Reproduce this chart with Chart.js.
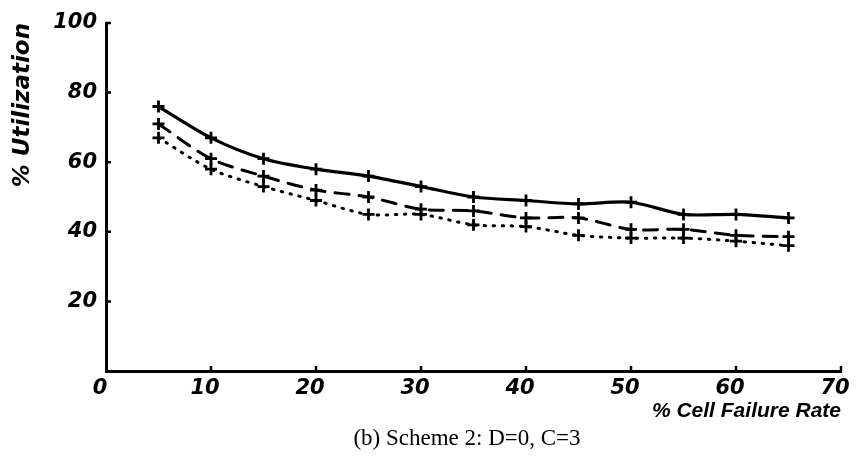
<!DOCTYPE html>
<html>
<head>
<meta charset="utf-8">
<script src="https://cdn.jsdelivr.net/npm/chart.js@4.4.0/dist/chart.umd.min.js"></script>
<style>
    html, body { margin: 0; padding: 0; background: #fff; }
    #wrap { position: relative; width: 867px; height: 465px; }
    #caption {
        position: absolute; left: 0; width: 934px; top: 425px;
        text-align: center; font-family: "Liberation Serif", "DejaVu Serif", serif;
        font-size: 23px; color: #000;
    }
</style>
</head>
<body>
<div id="wrap">
    <canvas id="chart" width="867" height="465"></canvas>
    <div id="caption">(b) Scheme 2: D=0, C=3</div>
</div>
<script>
// failure rate (%) on x, utilization (%) on y
const failureRates = [5, 10, 15, 20, 25, 30, 35, 40, 45, 50, 55, 60, 65];
const solidSeries  = [76, 67, 61, 58, 56, 53, 50, 49, 48, 48.5, 45, 45, 44];
const dashedSeries = [71, 61, 56, 52, 50, 46.5, 46, 44, 44, 40.7, 40.7, 39, 38.6];
const dottedSeries = [67, 58, 53, 49, 45, 45, 42, 41.5, 39, 38.2, 38.2, 37.3, 36];

const xTicks = [0, 10, 20, 30, 40, 50, 60, 70];
const yTicks = [0, 20, 40, 60, 80, 100];

const tickFont = { family: "'DejaVu Sans', sans-serif", size: 21, weight: 'bold', style: 'italic' };
const yTitleFont = { family: "'DejaVu Sans', sans-serif", size: 23, weight: 'bold', style: 'italic' };
const xTitleFont = { family: "'Liberation Sans', Arial, sans-serif", size: 21, weight: 'bold', style: 'italic' };

function toPoints(values) {
    return failureRates.map((x, i) => ({ x: x, y: values[i] }));
}

function lineSet(values, dash, width) {
    return {
        data: toPoints(values),
        borderColor: '#000',
        borderWidth: width,
        borderDash: dash,
        borderCapStyle: 'round',
        tension: 0.3,
        pointStyle: 'cross',
        pointRadius: 6,
        pointBorderWidth: 2.8,
        pointBorderColor: '#000',
        pointBackgroundColor: '#000'
    };
}

// small tick marks pointing into the plot
const innerTicks = {
    id: 'innerTicks',
    afterDraw(chart) {
        const ctx = chart.ctx;
        const xs = chart.scales.x, ys = chart.scales.y;
        ctx.save();
        ctx.strokeStyle = '#000';
        ctx.lineWidth = 2.5;
        ctx.beginPath();
        xs.ticks.forEach((t, i) => {
            if (t.value === 0) return;
            const px = xs.getPixelForTick(i);
            ctx.moveTo(px, xs.top);
            ctx.lineTo(px, xs.top - 5);
        });
        ys.ticks.forEach((t, i) => {
            if (t.value === 0) return;
            const py = ys.getPixelForTick(i);
            ctx.moveTo(ys.right, py);
            ctx.lineTo(ys.right + 5, py);
        });
        ctx.stroke();
        ctx.restore();
    }
};

new Chart('chart', {
    type: 'line',
    data: {
        datasets: [
            lineSet(solidSeries, [], 3.2),
            lineSet(dashedSeries, [14, 10], 3),
            lineSet(dottedSeries, [1.5, 7.5], 3)
        ]
    },
    options: {
        responsive: false,
        animation: false,
        layout: { padding: { top: 23, right: 26, left: 0, bottom: 0 } },
        plugins: { legend: { display: false }, tooltip: { enabled: false } },
        scales: {
            x: {
                type: 'linear',
                min: 0, max: 70,
                afterBuildTicks: s => { s.ticks = xTicks.map(v => ({ value: v })); },
                afterFit: s => { s.height = 94; },
                border: { color: '#000', width: 3 },
                grid: { display: false, drawTicks: false },
                ticks: { color: '#000', font: tickFont, padding: 5, maxRotation: 0, labelOffset: -6 },
                title: {
                    display: true, align: 'end', text: '% Cell Failure Rate', color: '#000',
                    font: xTitleFont, padding: { top: 0, bottom: 41 }
                }
            },
            y: {
                min: 0, max: 100,
                afterBuildTicks: s => { s.ticks = yTicks.map(v => ({ value: v })); },
                afterFit: s => { s.width = 106; },
                border: { color: '#000', width: 3 },
                grid: { display: false, drawTicks: false },
                ticks: { color: '#000', font: tickFont, padding: 9, callback: v => v === 0 ? '' : v },
                title: {
                    display: true, align: 'end', text: '% Utilization', color: '#000',
                    font: yTitleFont, padding: { top: 9, bottom: 0 }
                }
            }
        }
    },
    plugins: [innerTicks]
});
</script>
</body>
</html>
